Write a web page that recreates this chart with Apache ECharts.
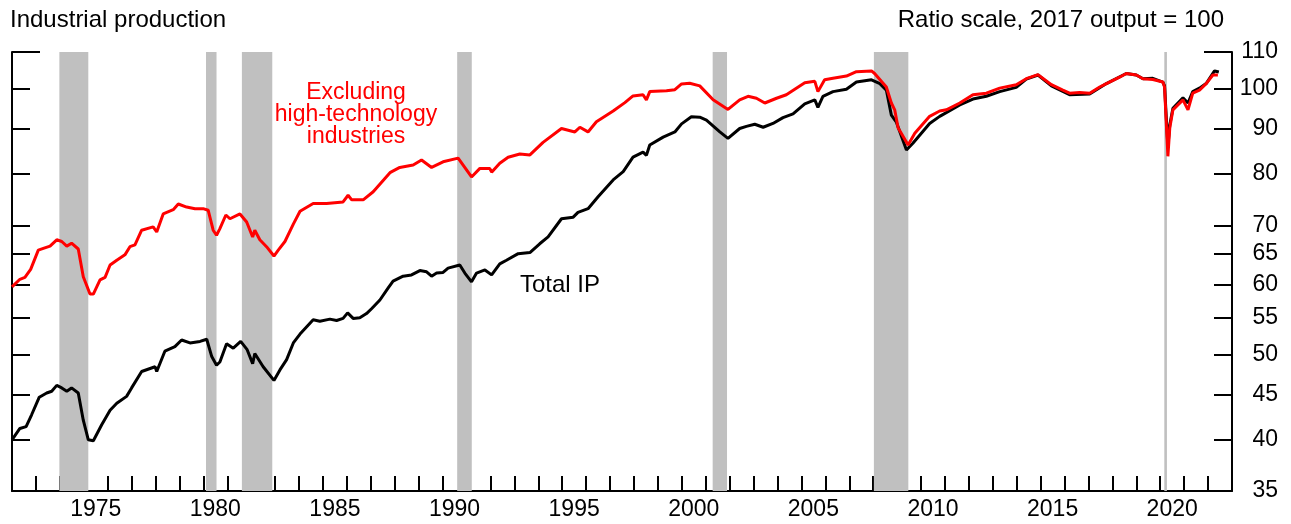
<!DOCTYPE html>
<html>
<head>
<meta charset="utf-8">
<script src="https://cdn.jsdelivr.net/npm/echarts@6/dist/echarts.min.js"></script>
<style>
html,body{margin:0;padding:0;background:#fff;}
#c{width:1291px;height:524px;}
</style>
</head>
<body>
<div id="c"></div>
<script>
// ---- Data (year, index value; 2017 = 100) ----
var totalIP = [
[1972.00,40.0],[1972.33,41.2],[1972.59,41.4],[1972.82,42.7],[1973.14,44.7],[1973.45,45.2],[1973.66,45.4],[1973.87,46.1],
[1974.08,45.8],[1974.29,45.4],[1974.49,45.8],[1974.77,45.2],[1974.98,42.1],[1975.19,40.0],[1975.40,39.9],[1975.75,41.6],
[1976.10,43.2],[1976.38,44.0],[1976.79,44.8],[1977.00,45.8],[1977.42,47.8],[1977.98,48.4],[1978.05,47.8],[1978.39,50.4],
[1978.81,51.0],[1979.09,51.9],[1979.44,51.5],[1979.86,51.7],[1980.14,52.0],[1980.35,49.7],[1980.55,48.6],[1980.69,49.0],
[1980.97,51.4],[1981.25,50.8],[1981.56,51.7],[1981.83,50.6],[1982.06,48.8],[1982.15,50.1],[1982.50,48.4],[1982.95,46.7],
[1983.20,48.0],[1983.48,49.3],[1983.76,51.5],[1984.04,52.7],[1984.59,54.7],[1984.87,54.5],[1985.29,54.8],[1985.57,54.6],
[1985.84,54.9],[1986.03,55.7],[1986.26,54.9],[1986.54,55.0],[1986.82,55.6],[1987.03,56.3],[1987.38,57.6],[1987.72,59.4],
[1987.93,60.5],[1988.35,61.3],[1988.70,61.5],[1989.05,62.2],[1989.33,62.0],[1989.54,61.3],[1989.75,61.8],[1990.02,61.9],
[1990.23,62.6],[1990.72,63.1],[1990.93,61.8],[1991.21,60.4],[1991.42,61.8],[1991.77,62.3],[1992.05,61.5],[1992.39,63.3],
[1992.67,63.9],[1993.16,65.0],[1993.65,65.2],[1994.06,66.7],[1994.41,67.9],[1994.97,71.2],[1995.46,71.5],[1995.66,72.4],
[1996.08,73.1],[1996.50,75.4],[1997.13,78.8],[1997.55,80.5],[1997.96,83.6],[1998.38,84.7],[1998.52,84.0],[1998.66,86.3],
[1999.22,88.1],[1999.71,89.3],[1999.99,91.2],[2000.40,92.9],[2000.75,92.8],[2001.03,92.1],[2001.59,89.3],[2001.93,87.8],
[2002.42,90.1],[2002.70,90.6],[2003.05,91.1],[2003.40,90.4],[2003.81,91.3],[2004.23,92.7],[2004.65,93.6],[2005.14,96.1],
[2005.56,97.1],[2005.69,95.2],[2005.90,98.0],[2006.32,99.2],[2006.88,99.8],[2007.30,101.7],[2007.93,102.3],[2008.28,101.3],
[2008.55,99.6],[2008.76,93.3],[2008.97,91.6],[2009.39,85.2],[2009.66,86.7],[2010.36,91.3],[2010.78,93.0],[2011.62,95.8],
[2012.17,97.3],[2012.73,98.0],[2013.29,99.2],[2013.98,100.3],[2014.40,102.5],[2014.89,103.6],[2015.45,100.7],[2016.21,98.4],
[2017.05,98.6],[2017.75,101.3],[2018.58,104.0],[2019.00,103.6],[2019.28,102.6],[2019.69,102.7],[2020.11,101.7],[2020.18,100.7],
[2020.32,86.0],[2020.40,91.0],[2020.53,95.0],[2020.95,97.6],[2021.16,96.3],[2021.36,99.2],[2021.64,100.1],[2021.92,101.3],
[2022.27,104.7],[2022.45,104.4]
];
var exHighTech = [
[1972.00,59.6],[1972.33,60.8],[1972.54,61.1],[1972.78,62.4],[1973.10,65.6],[1973.31,65.9],[1973.59,66.3],[1973.87,67.4],
[1974.08,67.1],[1974.29,66.3],[1974.49,66.8],[1974.77,65.8],[1974.98,61.2],[1975.26,58.5],[1975.40,58.5],[1975.68,60.7],
[1975.89,61.1],[1976.10,63.1],[1976.38,63.9],[1976.72,64.8],[1976.93,66.2],[1977.14,66.5],[1977.42,69.1],[1977.90,69.7],
[1978.05,68.8],[1978.32,72.1],[1978.74,72.9],[1978.95,74.0],[1979.30,73.4],[1979.65,73.1],[1979.99,73.1],[1980.20,72.8],
[1980.41,69.1],[1980.55,68.2],[1980.69,69.4],[1980.94,71.9],[1981.11,71.2],[1981.53,72.1],[1981.81,70.6],[1982.06,67.9],
[1982.15,69.1],[1982.36,67.4],[1982.64,66.2],[1982.95,64.6],[1983.13,65.6],[1983.41,67.1],[1983.76,70.2],[1984.04,72.6],
[1984.59,74.1],[1985.15,74.1],[1985.84,74.4],[1986.05,75.7],[1986.20,74.8],[1986.68,74.8],[1987.10,76.4],[1987.80,80.3],
[1988.21,81.4],[1988.77,81.9],[1989.12,83.0],[1989.54,81.4],[1990.02,82.6],[1990.65,83.4],[1991.21,79.4],[1991.56,81.2],
[1991.97,81.2],[1992.05,80.4],[1992.39,82.3],[1992.74,83.6],[1993.23,84.3],[1993.65,84.1],[1994.20,86.9],[1994.97,90.1],
[1995.53,89.3],[1995.74,90.4],[1996.08,89.3],[1996.43,91.7],[1997.13,94.3],[1997.62,96.4],[1997.96,98.1],[1998.38,98.4],
[1998.52,97.1],[1998.66,99.2],[1999.36,99.4],[1999.71,99.7],[1999.99,101.2],[2000.33,101.4],[2000.75,100.7],[2001.31,97.1],
[2001.93,94.7],[2002.42,97.1],[2002.77,98.0],[2003.12,97.5],[2003.47,96.3],[2003.96,97.5],[2004.37,98.4],[2005.14,101.5],
[2005.56,101.9],[2005.69,99.2],[2005.97,102.3],[2006.32,102.7],[2006.88,103.3],[2007.30,104.5],[2007.93,104.7],[2008.06,104.0],
[2008.55,100.4],[2008.76,96.3],[2008.90,94.6],[2009.04,90.3],[2009.46,86.3],[2009.74,89.0],[2010.36,93.0],[2010.78,94.3],
[2011.06,94.6],[2011.62,96.3],[2012.17,98.4],[2012.73,98.8],[2013.29,100.1],[2013.98,101.0],[2014.40,102.6],[2014.89,103.7],
[2015.45,101.0],[2015.93,99.6],[2016.21,98.8],[2016.63,99.0],[2017.05,98.8],[2017.47,100.4],[2017.75,101.3],[2018.30,103.0],
[2018.58,104.0],[2019.00,103.6],[2019.28,102.6],[2019.69,102.4],[2020.11,101.7],[2020.18,100.4],[2020.32,83.8],[2020.40,90.3],
[2020.53,94.6],[2020.95,97.1],[2021.16,94.6],[2021.36,98.8],[2021.64,99.6],[2021.92,101.3],[2022.20,103.6],[2022.41,103.6]
];
var recessions = [
[1973.98,1975.19],[1980.11,1980.55],[1981.61,1982.88],[1990.61,1991.22],
[2001.29,2001.89],[2008.03,2009.47],[2020.17,2020.28]
];
var yTickValues = [35,40,45,50,55,60,65,70,80,90,100,110];
var xLabelYears = [1975,1980,1985,1990,1995,2000,2005,2010,2015,2020];
var xMin = 1972, xMax = 2023, yMin = 35, yMax = 110;

// ---- Build options ----
var ln = Math.log;
function toLog(arr){ return arr.map(function(p){ return [p[0], ln(p[1])]; }); }
var yTicksLn = yTickValues.map(ln);
var xTickYears = [];
for (var yr = xMin; yr <= xMax; yr++) xTickYears.push(yr);
var xLabelPos = xLabelYears.map(function(y){ return y + 0.5; });
var FONT = '"Liberation Sans", Arial, Helvetica, sans-serif';

function yAx(pos, tickVals, len, showLine, showLabel) {
  return {
    type: 'value', position: pos, min: ln(yMin), max: ln(yMax),
    axisLine: { show: showLine, lineStyle: { color: '#000', width: 2 } },
    axisTick: { show: true, inside: true, length: len, customValues: tickVals,
                lineStyle: { color: '#000', width: 2 } },
    axisLabel: { show: showLabel, customValues: tickVals, align: 'right', margin: 46,
                 showMinLabel: true, showMaxLabel: true,
                 color: '#000', fontSize: 23, fontFamily: FONT,
                 formatter: function(v){ return String(Math.round(Math.exp(v))); } },
    splitLine: { show: false }
  };
}

var option = {
  animation: false,
  backgroundColor: '#fff',
  grid: { left: 12, right: 59, top: 52, bottom: 33, containLabel: false },
  xAxis: {
    type: 'value', min: xMin, max: xMax,
    axisLine: { show: true, lineStyle: { color: '#000', width: 2 } },
    axisTick: { show: true, inside: true, length: 15, customValues: xTickYears,
                lineStyle: { color: '#000', width: 2 } },
    axisLabel: { customValues: xLabelPos, margin: 7, color: '#000', fontSize: 23, fontFamily: FONT,
                 formatter: function(v){ return String(Math.floor(v)); } },
    splitLine: { show: false }
  },
  yAxis: [
    yAx('left', yTicksLn, 18, true, false),
    yAx('right', yTicksLn, 18, true, true),
    yAx('left', [ln(yMax)], 28, false, false),
    yAx('right', [ln(yMax)], 28, false, false)
  ],
  series: [
    { type: 'line', data: [], silent: true,
      markArea: { silent: true, itemStyle: { color: '#c0c0c0', opacity: 1 },
        data: recessions.map(function(r){ return [{ xAxis: r[0] }, { xAxis: r[1] }]; }) } },
    { type: 'line', name: 'Total IP', data: toLog(totalIP), showSymbol: false, symbol: 'none',
      lineStyle: { color: '#000', width: 3 }, z: 3 },
    { type: 'line', name: 'Excluding high-technology industries', data: toLog(exHighTech),
      showSymbol: false, symbol: 'none', lineStyle: { color: '#ff0000', width: 3 }, z: 4 }
  ],
  graphic: [
    { type: 'text', left: 10, top: 8, style: { text: 'Industrial production', font: '24px ' + FONT, fill: '#000' } },
    { type: 'text', right: 67, top: 8, style: { text: 'Ratio scale, 2017 output = 100', font: '24px ' + FONT, fill: '#000' } },
    { type: 'text', x: 356, y: 115, style: { text: 'Excluding\nhigh-technology\nindustries', font: '23px ' + FONT,
      fill: '#ff0000', align: 'center', verticalAlign: 'middle', lineHeight: 22 } },
    { type: 'text', x: 520, y: 285, style: { text: 'Total IP', font: '24px ' + FONT, fill: '#000',
      align: 'left', verticalAlign: 'middle' } }
  ]
};
var chart = echarts.init(document.getElementById('c'), null, { renderer: 'canvas' });
chart.setOption(option);
</script>
</body>
</html>
